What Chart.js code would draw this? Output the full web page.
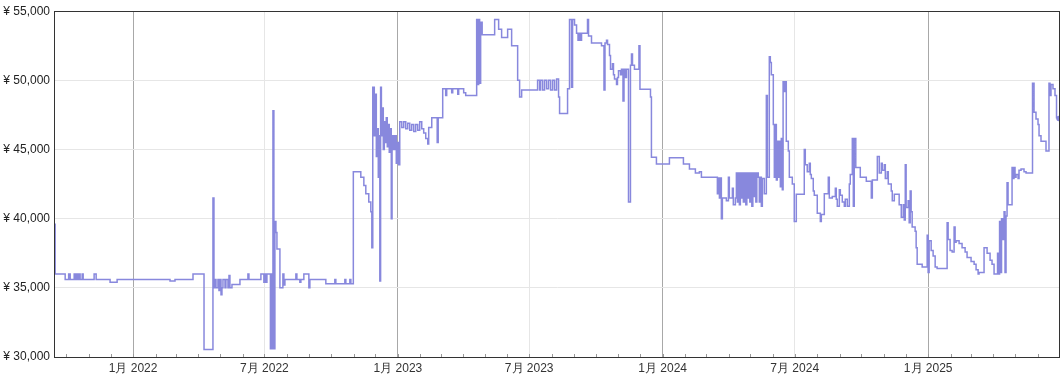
<!DOCTYPE html>
<html>
<head>
<meta charset="utf-8">
<script src="https://cdn.jsdelivr.net/npm/chart.js@4.4.1/dist/chart.umd.min.js"></script>
<style>
  html, body { margin: 0; padding: 0; background: #fff; }
  #wrap { width: 1063px; height: 375px; position: relative; }
</style>
</head>
<body>
<div id="wrap"><canvas id="price-chart"></canvas></div>
<script>
// Price history.
// days = days counted from 1 Jan 2022, prices in yen (each value holds until the next one)
const days = [
  -109, -107.4, -93.6, -88.8, -86.7, -81.2, -79.2, -77.8, -75.7, -74.3, -73.0, -70.2, -68.8, -53.7, -50.9,
  -31.7, -22.0, 50.9, 57.8, 82.6, 97.8, 110.1, 111.5, 112.9, 114.3, 117.0, 118.4, 119.8, 121.2, 122.5,
  123.9, 126.7, 128.0, 130.8, 132.2, 133.5, 136.3, 147.3, 158.3, 159.7, 176.2, 180.3, 181.7, 183.1, 184.5,
  189.3, 190.7, 192.1, 192.8, 194.1, 195.5, 196.9, 198.3, 202.4, 206.5, 207.9, 209.3, 224.4, 225.8, 229.9,
  231.3, 235.4, 242.3, 243.7, 265.7, 278.1, 279.5, 291.9, 293.3, 298.8, 300.2, 303.6, 313.9, 318.1, 320.8,
  324.9, 327.7, 329.1, 330.4, 332.5, 333.9, 335.3, 336.6, 338.0, 339.4, 340.1, 341.2, 342.3, 343.5, 344.9,
  346.3, 347.6, 349.0, 350.4, 351.8, 353.1, 354.5, 355.9, 357.0, 358.7, 360.7, 362.8, 364.9, 366.2, 367.6,
  370.4, 373.1, 375.9, 378.6, 381.4, 384.1, 386.9, 389.6, 392.4, 395.1, 397.9, 400.6, 403.4, 406.2, 407.5,
  411.7, 419.2, 420.6, 426.8, 430.9, 432.3, 439.2, 440.6, 447.5, 448.8, 455.7, 458.5, 473.6, 475.0, 476.4,
  477.7, 479.1, 481.2, 498.4, 503.9, 508.0, 516.3, 521.8, 530.1, 532.8, 535.6, 557.6, 560.4, 561.7, 564.5,
  567.2, 570.0, 572.7, 575.5, 578.3, 581.0, 583.8, 586.5, 587.9, 598.9, 601.6, 604.4, 605.8, 608.5, 611.3,
  613.3, 614.7, 616.8, 618.2, 626.4, 627.8, 631.9, 645.7, 649.1, 650.5, 652.6, 654.0, 656.7, 658.1, 660.8,
  662.2, 663.6, 666.4, 667.7, 669.1, 671.9, 673.2, 675.3, 676.7, 678.8, 680.1, 682.9, 685.6, 687.0, 688.4,
  691.1, 697.3, 698.7, 713.2, 714.5, 721.4, 739.3, 758.6, 766.9, 775.1, 780.6, 783.4, 805.4, 806.8, 808.2,
  809.5, 810.9, 812.3, 817.8, 820.6, 821.9, 826.1, 827.4, 830.2, 831.6, 833.0, 834.3, 835.7, 837.1, 838.5,
  839.8, 841.2, 842.6, 844.6, 846.0, 847.4, 848.8, 850.1, 851.5, 852.9, 854.3, 855.6, 857.0, 858.4, 859.8,
  861.8, 863.2, 864.6, 866.0, 867.4, 870.1, 872.9, 874.3, 877.0, 878.4, 879.8, 882.5, 883.9, 885.3, 886.7,
  888.0, 889.4, 890.8, 892.2, 893.5, 894.9, 896.0, 897.7, 899.0, 900.4, 903.2, 904.6, 908.7, 911.4, 914.2,
  925.2, 926.6, 929.3, 932.1, 933.5, 934.9, 937.6, 939.0, 943.1, 947.3, 948.7, 952.8, 958.3, 959.7, 963.8,
  968.0, 969.3, 970.7, 973.5, 974.9, 977.6, 980.4, 981.7, 984.5, 987.3, 988.6, 991.4, 992.8, 994.1, 996.2,
  1002.4, 1010.7, 1017.6, 1019.0, 1025.9, 1028.6, 1031.4, 1032.7, 1035.5, 1036.9, 1039.6, 1041.0, 1045.1, 1046.5, 1049.3,
  1056.0, 1058.9, 1061.6, 1063.0, 1064.4, 1065.6, 1068.4, 1069.8, 1071.2, 1072.5, 1073.9, 1078.0, 1079.4, 1080.8, 1087.7,
  1094.6, 1095.9, 1097.3, 1100.1, 1102.8, 1105.6, 1108.3, 1122.1, 1123.5, 1126.2, 1129.0, 1131.7, 1133.1, 1134.5, 1138.6,
  1142.7, 1146.9, 1149.6, 1155.1, 1159.3, 1162.0, 1164.8, 1166.1, 1173.0, 1177.2, 1181.3, 1184.0, 1186.8, 1191.6, 1193.0,
  1194.4, 1195.7, 1197.1, 1199.2, 1200.6, 1201.9, 1203.3, 1204.7, 1206.1, 1211.6, 1213.0, 1214.3, 1215.7, 1217.1, 1219.9,
  1221.2, 1224.0, 1228.1, 1230.9, 1239.8, 1241.9, 1244.6, 1247.4, 1248.8, 1251.5, 1258.4, 1262.5, 1263.9, 1265.3, 1268.0,
  1270.8, 1272.9, 1276.3
];
const prices = [
  39600, 36000, 35600, 36000, 35600, 36000, 35600, 36000, 35600, 36000, 35600, 36000, 35600, 36000, 35600,
  35400, 35600, 35500, 35600, 36000, 30550, 41500, 35000, 35600, 35000, 35600, 34800, 35600, 34500, 35000,
  35600, 35000, 35600, 35000, 35900, 35000, 35250, 35600, 36000, 35600, 36000, 35400, 36000, 35400, 36000,
  30600, 36000, 30600, 47800, 30600, 39800, 39000, 37800, 35000, 36000, 35200, 35600, 36000, 35600, 35400,
  35600, 36000, 35000, 35600, 35300, 35600, 35300, 35600, 35300, 35600, 35300, 43400, 43000, 42400, 41800,
  41200, 40500, 37900, 49500, 46000, 49000, 44500, 46500, 43000, 46000, 35500, 49500, 46000, 48000, 45000,
  47000, 45500, 47300, 45200, 46800, 44800, 46500, 40000, 46000, 45000, 46000, 44000, 45500, 43900, 47000,
  46600, 47000, 46500, 46900, 46400, 46800, 46300, 46800, 46400, 47000, 46500, 46200, 45800, 45400, 46600,
  47300, 45500, 47300, 49400, 48900, 49400, 49100, 49400, 49000, 49400, 49100, 48900, 54400, 49700, 54400,
  49800, 54200, 53300, 54400, 53700, 53100, 53700, 52500, 50000, 48800, 49300, 50000, 49300, 50000, 49300,
  50000, 49400, 50000, 49300, 50000, 49300, 50100, 48800, 47600, 49400, 54400, 49500, 54400, 54000, 53400,
  52900, 53400, 52900, 53400, 54400, 53200, 52700, 52500, 49300, 52700, 52900, 52600, 51800, 50800, 51200,
  50400, 50100, 49700, 50200, 50700, 50400, 50800, 48500, 50800, 50200, 50800, 41200, 51100, 51900, 51100,
  50800, 52500, 49350, 48800, 44450, 43950, 44400, 43950, 43600, 43300, 43400, 43000, 41800, 42950, 41500,
  42950, 40000, 41500, 41300, 43000, 41500, 42200, 41000, 41500, 43300, 41200, 43300, 41000, 43300, 41500,
  43300, 41200, 43300, 41000, 43300, 41500, 43300, 41200, 43300, 40900, 43300, 41600, 43300, 41200, 43300,
  43000, 41200, 43000, 40900, 42900, 41800, 48900, 43000, 51700, 51300, 50400, 46800, 43000, 46800, 42800,
  45600, 43000, 45600, 42300, 45800, 42100, 49900, 49200, 49900, 45600, 44900, 43000, 42500, 39800, 41760,
  45000, 43900, 43400, 44000, 43200, 42900, 42000, 41700, 40400, 39800, 40300, 41800, 43000, 41500, 41600,
  42200, 41400, 40900, 42100, 41700, 41200, 40900, 41400, 40900, 42500, 43200, 45800, 40900, 45800, 43700,
  43000, 42700, 41500, 42800, 44500, 43300, 44000, 43500, 43900, 42900, 43400, 42500, 42000, 41300, 41760,
  41000, 40100, 41000, 39900, 43900, 40800, 41300, 39700, 42000, 40500, 39400, 39100, 37900, 36700, 36500,
  38800, 36100, 38400, 37700, 37300, 36500, 36400, 39700, 38500, 37700, 37600, 39400, 38300, 38400, 38200,
  37900, 37600, 37200, 36900, 36700, 36300, 36000, 36100, 37900, 37500, 37000, 36700, 36000, 37500, 36000,
  39800, 36100, 40000, 38500, 40500, 36100, 40200, 42600, 41000, 43700, 42900, 43700, 43000, 43200, 42900,
  43500, 43600, 43400, 43300, 49800, 47700, 47200, 46800, 46000, 45600, 44900, 49800, 48900, 49700, 49400,
  48900, 47300, 47250
];

const yTicks = [30000, 35000, 40000, 45000, 50000, 55000];
// labelled x ticks (days from 1 Jan 2022)
const labelDays = [0, 181, 365, 546, 730, 912, 1096];
const labelTexts = ['1月 2022', '7月 2022', '1月 2023', '7月 2023', '1月 2024', '7月 2024', '1月 2025'];
const xMin = -109, xMax = 1277;

// one small tick for every month start
const startDay = Date.UTC(2022, 0, 1);
const monthTicks = [];
for (let y = 2021; y <= 2025; y++) {
    for (let m = 0; m < 12; m++) {
        const d = (Date.UTC(y, m, 1) - startDay) / 864e5;
        if (d > xMin && d < xMax) monthTicks.push(d);
    }
}

const points = days.map((d, i) => ({ x: d, y: prices[i] }));
const FONT = "'Liberation Sans', Arial, sans-serif";

// frame around the plot and the little month marks on the bottom axis
const framePlugin = {
    id: 'frame',
    beforeDatasetsDraw(chart) {
        const { ctx, chartArea, scales } = chart;
        ctx.save();
        ctx.strokeStyle = '#999';
        ctx.lineWidth = 1;
        monthTicks.forEach(d => {
            const x = Math.round(scales.x.getPixelForValue(d)) + 0.5;
            ctx.beginPath();
            ctx.moveTo(x, chartArea.bottom - 3);
            ctx.lineTo(x, chartArea.bottom);
            ctx.stroke();
        });
        ctx.restore();
    },
    afterDraw(chart) {
        const { ctx, chartArea } = chart;
        ctx.save();
        ctx.strokeStyle = '#333';
        ctx.lineWidth = 1;
        ctx.strokeRect(Math.round(chartArea.left) + 0.5, Math.round(chartArea.top) + 0.5,
            Math.round(chartArea.right - chartArea.left) - 1, Math.round(chartArea.bottom - chartArea.top));
        ctx.restore();
    }
};

new Chart(document.getElementById('price-chart'), {
    type: 'line',
    data: {
        datasets: [{
            data: points,
            borderColor: '#8888dd',
            backgroundColor: '#8888dd',
            borderWidth: 1.5,
            stepped: true,
            fill: false,
            pointRadius: ctx => (ctx.dataIndex === points.length - 1 ? 2 : 0),
            pointHoverRadius: 0
        }]
    },
    options: {
        responsive: true,
        maintainAspectRatio: false,
        animation: false,
        parsing: false,
        layout: { padding: { top: 9, right: 3, left: 0, bottom: 0 } },
        plugins: { legend: { display: false }, tooltip: { enabled: false } },
        scales: {
            x: {
                type: 'linear',
                min: xMin,
                max: xMax,
                afterBuildTicks: scale => { scale.ticks = monthTicks.map(v => ({ value: v })); },
                afterFit: scale => { scale.height = 18; },
                grid: {
                    drawTicks: false,
                    color: ctx => {
                        const i = labelDays.indexOf(ctx.tick && ctx.tick.value);
                        if (i < 0) return 'rgba(0,0,0,0)';
                        return labelTexts[i].startsWith('1月') ? '#a8a8a8' : '#e6e6e6';
                    }
                },
                border: { color: '#333' },
                ticks: {
                    autoSkip: false,
                    maxRotation: 0,
                    padding: 4,
                    color: '#333',
                    font: { family: FONT, size: 12 },
                    callback: value => {
                        const i = labelDays.indexOf(value);
                        return i < 0 ? '' : labelTexts[i];
                    }
                }
            },
            y: {
                min: 30000,
                max: 55000,
                afterBuildTicks: scale => { scale.ticks = yTicks.map(v => ({ value: v })); },
                afterFit: scale => { scale.width = 54; },
                grid: { drawTicks: false, color: '#e6e6e6' },
                border: { color: '#333' },
                ticks: {
                    padding: 4,
                    color: '#222',
                    font: { family: FONT, size: 12 },
                    callback: v => '¥ ' + v.toLocaleString('en-US')
                }
            }
        }
    },
    plugins: [framePlugin]
});
</script>
</body>
</html>
